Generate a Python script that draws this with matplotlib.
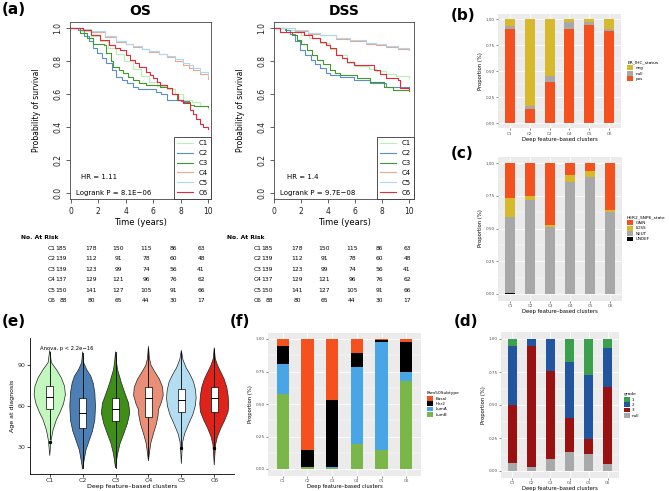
import numpy as np
import matplotlib
matplotlib.use("Agg")
import matplotlib.pyplot as plt
from matplotlib.patches import Patch, Polygon
from matplotlib.lines import Line2D

W, H = 669, 491
clusters = ["C1", "C2", "C3", "C4", "C5", "C6"]

# ---- (a) Kaplan-Meier data ----
os_t = [
    [0, 0.8, 1.5, 2.1, 2.7, 3.3, 3.9, 4.5, 5.1, 5.7, 6.3, 7.0, 7.6, 8.2, 8.8, 9.4, 10.0],
    [0, 0.5, 1.0, 1.3, 1.6, 1.9, 2.3, 2.6, 3.0, 3.3, 3.7, 4.1, 4.5, 4.9, 5.5, 6.2, 6.6, 7.0, 8.0, 8.6],
    [0, 0.7, 1.2, 1.6, 2.4, 2.6, 2.9, 3.1, 3.5, 3.8, 4.2, 4.5, 5.0, 5.5, 6.5, 7.0, 7.4, 7.7, 8.2, 8.65, 9.0, 10.0],
    [0, 0.9, 1.5, 2.5, 3.3, 4.0, 4.5, 5.2, 5.7, 6.4, 7.0, 7.6, 8.2, 8.6, 8.9, 9.4, 10.0],
    [0, 0.9, 1.5, 2.5, 3.3, 4.0, 4.5, 5.2, 5.7, 6.4, 7.0, 7.6, 8.2, 8.6, 8.9, 9.4, 10.0],
    [0, 0.9, 1.5, 2.1, 2.8, 3.2, 3.6, 4.0, 4.3, 4.7, 5.0, 5.5, 5.8, 6.0, 6.3, 6.5, 7.0, 7.4, 7.8, 8.2,
     8.65, 8.9, 9.1, 9.4, 9.6, 10.0],
]
os_s = [
    [1, 0.98, 0.95, 0.92, 0.88, 0.845, 0.80, 0.75, 0.71, 0.675, 0.65, 0.63, 0.60, 0.565, 0.55, 0.53, 0.51],
    [1, 0.985, 0.95, 0.92, 0.88, 0.85, 0.82, 0.79, 0.745, 0.705, 0.685, 0.665, 0.645, 0.632, 0.628, 0.614,
     0.60, 0.565, 0.56, 0.55],
    [1, 0.97, 0.94, 0.905, 0.895, 0.85, 0.80, 0.765, 0.745, 0.725, 0.70, 0.685, 0.665, 0.655, 0.645, 0.635,
     0.60, 0.565, 0.55, 0.535, 0.525, 0.523],
    [1, 0.99, 0.975, 0.945, 0.915, 0.90, 0.887, 0.87, 0.855, 0.84, 0.826, 0.80, 0.775, 0.76, 0.745, 0.72, 0.69],
    [1, 0.995, 0.98, 0.95, 0.92, 0.905, 0.89, 0.875, 0.86, 0.845, 0.83, 0.81, 0.79, 0.775, 0.76, 0.735, 0.71],
    [1, 0.985, 0.96, 0.925, 0.895, 0.88, 0.865, 0.835, 0.805, 0.785, 0.765, 0.735, 0.715, 0.695, 0.67, 0.655,
     0.635, 0.60, 0.565, 0.545, 0.50, 0.48, 0.45, 0.42, 0.40, 0.39],
]
dss_t = [
    [0, 1.0, 2.0, 2.6, 3.4, 4.1, 4.6, 5.4, 6.0, 7.0, 7.5, 8.3, 9.0, 10.0],
    [0, 0.8, 1.2, 1.5, 1.9, 2.3, 2.7, 3.0, 3.4, 3.8, 4.15, 4.9, 5.9, 7.1, 8.3, 9.3, 10.0],
    [0, 0.9, 1.3, 1.7, 2.0, 2.4, 2.8, 3.2, 3.6, 4.15, 4.5, 4.9, 6.1, 7.1, 8.1, 8.8, 10.0],
    [0, 1.5, 2.5, 3.4, 4.6, 5.6, 6.8, 7.5, 8.3, 9.2, 10.0],
    [0, 1.5, 2.5, 3.4, 4.6, 5.6, 6.8, 7.5, 8.3, 9.2, 10.0],
    [0, 0.45, 1.7, 2.2, 2.8, 3.4, 3.8, 4.15, 4.6, 5.0, 5.4, 5.9, 7.1, 7.4, 7.8, 8.3, 9.2, 9.3, 10.0],
]
dss_s = [
    [1, 0.985, 0.96, 0.94, 0.91, 0.87, 0.835, 0.79, 0.77, 0.75, 0.74, 0.72, 0.71, 0.695],
    [1, 0.985, 0.965, 0.92, 0.865, 0.835, 0.805, 0.78, 0.755, 0.73, 0.715, 0.705, 0.685, 0.665, 0.645, 0.64, 0.64],
    [1, 0.975, 0.955, 0.925, 0.90, 0.865, 0.835, 0.805, 0.78, 0.745, 0.73, 0.715, 0.695, 0.675, 0.645, 0.625, 0.62],
    [1, 0.98, 0.965, 0.955, 0.935, 0.92, 0.905, 0.895, 0.885, 0.875, 0.865],
    [1, 0.985, 0.97, 0.96, 0.94, 0.925, 0.91, 0.90, 0.89, 0.88, 0.87],
    [1, 0.978, 0.978, 0.958, 0.94, 0.917, 0.897, 0.877, 0.836, 0.815, 0.796, 0.776, 0.776, 0.745, 0.72,
     0.695, 0.685, 0.634, 0.628],
]
at_risk = [
    [185, 178, 150, 115, 86, 63],
    [139, 112, 91, 78, 60, 48],
    [139, 123, 99, 74, 56, 41],
    [137, 129, 121, 96, 76, 62],
    [150, 141, 127, 105, 91, 66],
    [88, 80, 65, 44, 30, 17],
]
km_colors = ["#b6f2b0", "#5b8ec8", "#3f9a2c", "#f2a58c", "#a9d8f2", "#e8273c"]

# ---- stacked proportions (bottom layer first) ----
er_names = ["pos", "null", "neg"]
er_vals = [
    [0.90, 0.134, 0.39, 0.90, 0.94, 0.88],
    [0.03, 0.032, 0.064, 0.07, 0.03, 0.02],
    [0.07, 0.834, 0.546, 0.03, 0.03, 0.10],
]
her2_names = ["UNDEF", "NEUT", "LOSS", "GAIN"]
her2_vals = [
    [0.005, 0, 0, 0, 0, 0],
    [0.583, 0.72, 0.51, 0.852, 0.893, 0.623],
    [0.145, 0.03, 0.017, 0.054, 0.047, 0.016],
    [0.267, 0.25, 0.473, 0.094, 0.06, 0.361],
]
grade_names = ["null", "3", "2", "1"]
grade_vals = [
    [0.058, 0.028, 0.09, 0.147, 0.127, 0.056],
    [0.442, 0.922, 0.665, 0.253, 0.116, 0.577],
    [0.444, 0.05, 0.245, 0.425, 0.486, 0.299],
    [0.056, 0.0, 0.0, 0.175, 0.271, 0.068],
]
pam50_names = ["LumB", "LumA", "Her2", "Basal"]
pam50_vals = [
    [0.58, 0.015, 0.01, 0.195, 0.15, 0.68],
    [0.23, 0.0, 0.005, 0.59, 0.83, 0.07],
    [0.14, 0.135, 0.515, 0.105, 0.01, 0.225],
    [0.05, 0.85, 0.47, 0.11, 0.01, 0.025],
]

# ---- (e) violin outlines (age, half width in category units) and box stats ----
vio_age = [
    [101, 92, 87, 81, 74.7, 68.5, 62, 56, 50, 42.6, 35, 24],
    [100, 92, 87, 82, 77, 70, 60, 50, 42, 35, 28, 20, 14],
    [100, 92, 87, 82, 77, 70, 62, 55, 47.5, 40, 33, 25, 15],
    [104, 95, 90, 85, 80, 74, 68, 62, 58, 53, 47, 40, 33, 26, 20],
    [101, 94, 88, 84, 78, 72, 66, 60, 54, 47, 40, 34, 27, 18],
    [103, 95, 90, 85, 80, 74, 68, 62, 56, 50, 44, 38, 32, 25, 17],
]
vio_hw = [
    [0, 0.05, 0.2, 0.35, 0.45, 0.475, 0.42, 0.32, 0.2, 0.1, 0.04, 0],
    [0, 0.03, 0.12, 0.25, 0.32, 0.37, 0.39, 0.37, 0.3, 0.2, 0.1, 0.04, 0],
    [0, 0.03, 0.06, 0.12, 0.18, 0.28, 0.40, 0.43, 0.36, 0.25, 0.14, 0.06, 0],
    [0, 0.03, 0.08, 0.2, 0.33, 0.43, 0.45, 0.38, 0.31, 0.29, 0.24, 0.15, 0.07, 0.03, 0],
    [0, 0.05, 0.15, 0.25, 0.37, 0.43, 0.45, 0.42, 0.35, 0.22, 0.1, 0.04, 0.02, 0],
    [0, 0.03, 0.1, 0.2, 0.3, 0.38, 0.42, 0.44, 0.42, 0.32, 0.2, 0.1, 0.04, 0.02, 0],
]
q1 = [58, 44, 49, 52, 56, 56]
med = [67, 55, 58, 66, 65, 66]
q3 = [75, 66, 66, 74, 73, 74]
wlo = [36, 15, 15, 22, 31, 31]
whi = [100, 99, 100, 103, 100, 102]
outl = [[34], [], [], [], [29.5], [29.5]]
vio_colors = ["#c2f7bd", "#4b7fb6", "#3e8e18", "#e98f77", "#b5ddf2", "#e0231a"]

fig = plt.figure(figsize=(W / 100, H / 100), dpi=100)


def px_axes(l, t, r, b):
    return fig.add_axes([l / W, 1 - b / H, (r - l) / W, (b - t) / H])


def ftxt(x, y, s, **kw):
    fig.text(x / W, 1 - y / H, s, **kw)


def km_panel(l, t, r, b, xlim, title, times, survs, hr, pval, hr_x, p_x, tab_x):
    ax = px_axes(l, t, r, b)
    for i in range(6):
        ax.step(times[i], survs[i], where="post", color=km_colors[i], lw=0.8)
    ax.set_xlim(*xlim)
    ax.set_ylim(-0.036, 1.036)
    ax.set_xticks(range(0, 11, 2))
    ax.set_yticks([0, 0.2, 0.4, 0.6, 0.8, 1.0])
    ax.set_yticklabels(["0.0", "0.2", "0.4", "0.6", "0.8", "1.0"], rotation=90, va="center")
    ax.tick_params(direction="out", length=3, width=0.5, labelsize=5.5, pad=2.5, colors="#222222")
    for sp in ax.spines.values():
        sp.set_linewidth(0.6)
        sp.set_color("#444444")
    ax.set_title(title, fontsize=10, fontweight="bold", pad=5)
    ax.set_xlabel("Time (years)", fontsize=6, labelpad=2)
    ax.set_ylabel("Probability of survival", fontsize=5.5, labelpad=9)
    ax.text(hr_x, 0.10, "HR = " + hr, fontsize=5, va="center")
    ax.text(p_x, 0.0, "Logrank P = " + pval, fontsize=5, va="center")
    handles = [Line2D([], [], color=km_colors[i], lw=0.8) for i in range(6)]
    leg = ax.legend(handles, clusters, loc="lower right", borderaxespad=0, fontsize=5,
                    handlelength=2.2, labelspacing=0.55, fancybox=False, framealpha=1,
                    edgecolor="#333333", borderpad=0.5, handletextpad=0.8)
    leg.get_frame().set_linewidth(0.6)
    # number at risk table
    ftxt(tab_x, 238, "No. At Risk", fontsize=4.3, fontweight="bold", va="center")
    col_x = [91, 118, 146, 173, 201]
    for i in range(6):
        y = 248.5 + i * 10.4
        ftxt(tab_x + 27, y, clusters[i], fontsize=4.3, va="center")
        ftxt(tab_x + 46, y, str(at_risk[i][0]), fontsize=4.3, va="center", ha="right")
        for j in range(5):
            ftxt(tab_x - 21 + col_x[j], y, str(at_risk[i][j + 1]), fontsize=4.3, va="center", ha="center")
    return ax


km_panel(70, 22, 211, 199, (-0.05, 10.2), "OS", os_t, os_s, "1.11", "8.1E\u221206", 0.75, 0.4, 21)
km_panel(274, 22, 414, 199, (-0.02, 10.35), "DSS", dss_t, dss_s, "1.4", "9.7E\u221208", 0.95, 0.4, 227)


def bar_panel(l, t, r, b, vals, colors, names, title, leg_x):
    ax = px_axes(l, t, r, b)
    ax.set_facecolor("#EBEBEB")
    x = np.arange(1, 7)
    bottom = np.zeros(6)
    for v, c in zip(vals, colors):
        ax.bar(x, v, 0.5, bottom=bottom, color=c, zorder=3)
        bottom += np.array(v)
    ax.set_xlim(0.4, 6.6)
    ax.set_ylim(-0.05, 1.05)
    for yy in [0.125, 0.375, 0.625, 0.875]:
        ax.axhline(yy, color="white", lw=0.3, zorder=1)
    for yy in [0, 0.25, 0.5, 0.75, 1.0]:
        ax.axhline(yy, color="white", lw=0.6, zorder=1)
    for xx in x:
        ax.axvline(xx, color="white", lw=0.6, zorder=1)
    for sp in ax.spines.values():
        sp.set_visible(False)
    ax.set_xticks(x)
    ax.set_xticklabels(clusters)
    ax.set_yticks([0, 0.25, 0.5, 0.75, 1.0])
    ax.set_yticklabels(["0.00", "0.25", "0.50", "0.75", "1.00"])
    ax.tick_params(length=1.5, width=0.4, color="#333333", labelsize=3, pad=1, labelcolor="#4d4d4d")
    ax.set_xlabel("Deep feature\u2013based clusters", fontsize=3.8, labelpad=1)
    ax.set_ylabel("Proportion (%)", fontsize=3.8, labelpad=2)
    handles = [Patch(facecolor=c) for c in colors][::-1]
    ax.legend(handles, names[::-1], title=title, loc="center left", bbox_to_anchor=(leg_x, 0.5),
              frameon=False, fontsize=3, title_fontsize=3.2, handlelength=1.4, handleheight=1.4,
              labelspacing=0.15, handletextpad=0.6, borderaxespad=0, borderpad=0, alignment="left")
    return ax


orange = "#f4511e"
yellow = "#d6b92c"
grey = "#a8a8a8"
bar_panel(498, 13.8, 621, 128.2, er_vals, [orange, grey, yellow], er_names, "ER_IHC_status", 1.05)
bar_panel(498, 156.5, 622, 300.5, her2_vals, ["#000000", grey, yellow, orange], her2_names,
          "HER2_SNP6_state", 1.04)
bar_panel(501, 332.4, 619, 477.6, grade_vals, ["#a9a9a9", "#9a1111", "#2255a0", "#3ba04b"], grade_names,
          "grade", 1.04)
bar_panel(268, 332.5, 421, 475.5, pam50_vals, ["#7ab648", "#48a5e6", "#000000", orange], pam50_names,
          "Pam50Subtype", 1.04)

# ---- (e) violin ----
ax = px_axes(30, 338, 234, 474)
for i in range(6):
    xc = i + 1
    a = np.array(vio_age[i])
    w = np.array(vio_hw[i])
    pts = np.concatenate([np.column_stack([xc + w, a]), np.column_stack([xc - w[::-1], a[::-1]])])
    ax.add_patch(Polygon(pts, closed=True, facecolor=vio_colors[i], edgecolor="#222222", lw=0.5, zorder=2))
    ax.plot([xc, xc], [wlo[i], whi[i]], color="black", lw=0.6, zorder=3)
    ax.add_patch(plt.Rectangle((xc - 0.1, q1[i]), 0.2, q3[i] - q1[i], facecolor="white",
                               edgecolor="black", lw=0.5, zorder=4))
    ax.plot([xc - 0.1, xc + 0.1], [med[i], med[i]], color="black", lw=0.7, zorder=5)
    for o in outl[i]:
        ax.plot(xc, o, "o", color="black", ms=1.4, zorder=5)
ax.set_xlim(0.4, 6.6)
ax.set_ylim(10.5, 110)
ax.spines["top"].set_visible(False)
ax.spines["right"].set_visible(False)
for sp in ["left", "bottom"]:
    ax.spines[sp].set_linewidth(0.6)
ax.set_xticks(range(1, 7))
ax.set_xticklabels(clusters)
ax.set_yticks([30, 60, 90])
ax.tick_params(length=2, width=0.5, labelsize=4.5, pad=1, labelcolor="#333333")
ax.set_xlabel("Deep feature\u2013based clusters", fontsize=4.5, labelpad=0.5)
ax.set_ylabel("Age at diagnosis", fontsize=4.5, labelpad=2)
ax.text(0.7, 102.5, "Anova, p < 2.2e\u221216", fontsize=3.8, va="center")

# panel labels
for lab, x, y in [("(a)", 2, 10), ("(b)", 451, 15), ("(c)", 451, 153), ("(d)", 454, 322),
                  ("(e)", 2, 322), ("(f)", 230, 322)]:
    ftxt(x, y, lab, fontsize=11, fontweight="bold", va="center")

fig.savefig("out.png", dpi=100)
